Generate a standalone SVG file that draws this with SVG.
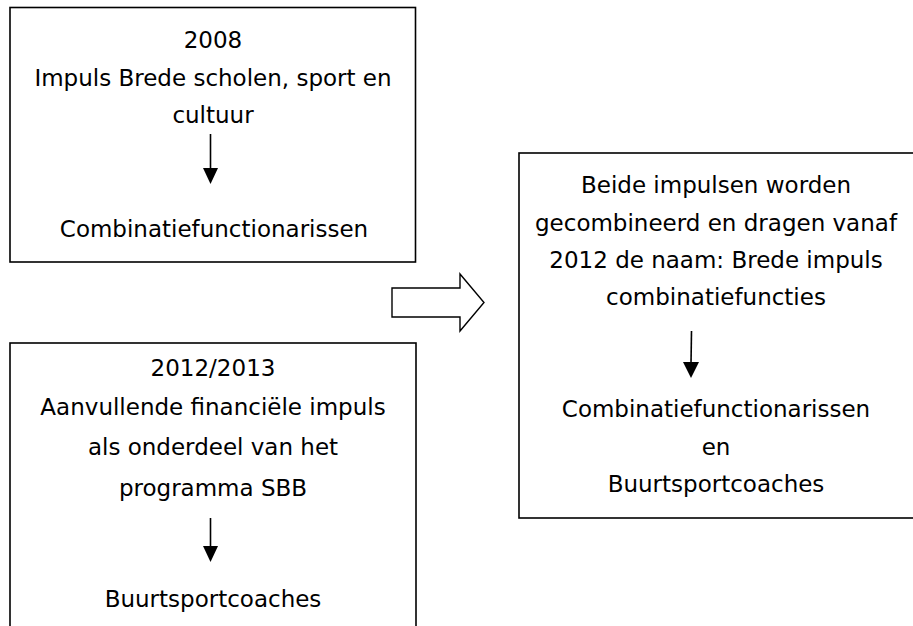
<svg xmlns="http://www.w3.org/2000/svg" width="913" height="626" viewBox="0 0 913 626">
  <style>
    .box { fill: #ffffff; stroke: #000000; stroke-width: 1.6; }
    .t { font-family: "DejaVu Sans", Verdana, sans-serif; font-size: 23px; fill: #000000; text-anchor: middle; }
    .ln { stroke: #000000; stroke-width: 1.6; fill: none; }
    .head { fill: #000000; }
    .block { fill: #ffffff; stroke: #000000; stroke-width: 1.4; stroke-linejoin: miter; }
  </style>
  <rect x="0" y="0" width="913" height="626" fill="#ffffff"/>
  <g id="node-2008">
    <rect class="box" x="10" y="7.5" width="405.5" height="254.5"/>
    <text class="t" x="213" y="48">2008</text>
    <text class="t" x="213" y="86">Impuls Brede scholen, sport en</text>
    <text class="t" x="213" y="123">cultuur</text>
    <line class="ln" x1="210.5" y1="134" x2="210.5" y2="170"/>
    <polygon class="head" points="203,168 218,168 210.5,184"/>
    <text class="t" x="214" y="237">Combinatiefunctionarissen</text>
  </g>
  <g id="node-2012">
    <rect class="box" x="10" y="343" width="406" height="300"/>
    <text class="t" x="213" y="376">2012/2013</text>
    <text class="t" x="213" y="415">Aanvullende financiële impuls</text>
    <text class="t" x="213" y="455">als onderdeel van het</text>
    <text class="t" x="213" y="496">programma SBB</text>
    <line class="ln" x1="210.5" y1="518" x2="210.5" y2="549"/>
    <polygon class="head" points="203,546 218,546 210.5,562"/>
    <text class="t" x="213" y="607">Buurtsportcoaches</text>
  </g>
  <g id="node-combined">
    <rect class="box" x="519" y="153" width="420" height="365"/>
    <text class="t" x="716" y="193">Beide impulsen worden</text>
    <text class="t" x="716" y="231">gecombineerd en dragen vanaf</text>
    <text class="t" x="716" y="268">2012 de naam: Brede impuls</text>
    <text class="t" x="716" y="305">combinatiefuncties</text>
    <line class="ln" x1="691.5" y1="331" x2="691" y2="364"/>
    <polygon class="head" points="683,362 699,362 691,378"/>
    <text class="t" x="716" y="417">Combinatiefunctionarissen</text>
    <text class="t" x="716" y="455">en</text>
    <text class="t" x="716" y="492">Buurtsportcoaches</text>
  </g>
  <g id="connectors">
    <polygon class="block" points="392,288 460,288 460,274 484,302.5 460,331 460,317 392,317"/>
  </g>
</svg>
